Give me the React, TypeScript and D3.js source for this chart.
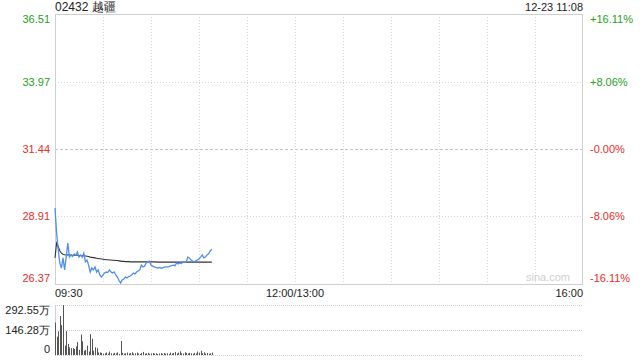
import React from "react";
import * as d3 from "d3";

const title = "02432 越疆";
const stamp = "12-23 11:08";
const prevClose = 31.44;
const priceTicks = [36.51, 33.97, 31.44, 28.91, 26.37];
const pctTicks = ["+16.11%", "+8.06%", "-0.00%", "-8.06%", "-16.11%"];
const timeLabels = ["09:30", "12:00/13:00", "16:00"];
const timeLabelMinutes = [0, 150, 330];
const volTickLabels = ["292.55万", "146.28万", "0"];
const volTicks = [292.55, 146.28, 0];

const prices = [
  29.22, 28.29, 27.65, 27.16, 26.97, 27.35, 26.9, 27.38, 27.91, 27.38,
  27.46, 27.4, 27.5, 27.45, 27.57, 27.38, 27.46, 27.38, 27.53, 27.2,
  27.27, 27.08, 26.82, 26.97, 26.9, 27.01, 26.82, 26.9, 26.71, 26.63,
  26.71, 26.78, 26.82, 26.8, 26.9, 26.82, 26.78, 26.82, 26.71, 26.63,
  26.5, 26.41, 26.52, 26.56, 26.63, 26.6, 26.65, 26.67, 26.72, 26.78,
  26.75, 26.82, 26.86, 26.9, 27.08, 27.01, 27.04, 27.16, 27.2, 27.23,
  27.08, 27.04, 27.01, 26.99, 26.97, 26.99, 26.97, 26.97, 26.99, 27.01,
  27.01, 27.01, 27.04, 27.06, 27.08, 27.06, 27.16, 27.12, 27.16, 27.14,
  27.2, 27.18, 27.2, 27.38, 27.35, 27.27, 27.23, 27.2, 27.24, 27.27,
  27.31, 27.38, 27.46, 27.35, 27.38, 27.46, 27.5, 27.61, 27.68,
];

const avgPrices = [
  27.35, 27.91, 27.78, 27.62, 27.53, 27.49, 27.47, 27.46, 27.47, 27.46,
  27.46, 27.45, 27.45, 27.45, 27.45, 27.44, 27.44, 27.43, 27.43, 27.42,
  27.41, 27.4, 27.38, 27.37, 27.36, 27.35, 27.34, 27.33, 27.32, 27.31,
  27.3, 27.29, 27.28, 27.28, 27.27, 27.27, 27.26, 27.26, 27.25, 27.25,
  27.24, 27.23, 27.22, 27.22, 27.21, 27.21, 27.21, 27.2, 27.2, 27.2,
  27.2, 27.2, 27.2, 27.2, 27.2, 27.2, 27.2, 27.2, 27.2, 27.2,
  27.2, 27.2, 27.2, 27.2, 27.19, 27.19, 27.19, 27.19, 27.19, 27.19,
  27.19, 27.19, 27.19, 27.19, 27.19, 27.19, 27.19, 27.19, 27.19, 27.19,
  27.19, 27.19, 27.19, 27.19, 27.19, 27.19, 27.19, 27.19, 27.19, 27.19,
  27.19, 27.19, 27.19, 27.19, 27.19, 27.19, 27.19, 27.19, 27.19,
];

const volumes = [
  190, 107, 138, 228, 175, 292.55, 55, 140, 65, 45,
  40, 40, 35, 50, 75, 30, 120, 80, 25, 30,
  55, 20, 122, 95, 25, 45, 40, 15, 15, 12,
  8, 10, 15, 8, 20, 10, 8, 12, 10, 15,
  6, 82, 12, 8, 10, 14, 9, 12, 16, 8,
  10, 14, 9, 6, 12, 18, 8, 10, 13, 7,
  9, 12, 8, 10, 6, 9, 11, 7, 12, 8,
  10, 6, 14, 9, 12, 18, 9, 14, 22, 10,
  8, 16, 12, 9, 13, 10, 7, 12, 9, 20,
  14, 25, 10, 16, 8, 12, 7, 10, 14,
];

const GREEN = "#21a321";
const RED = "#ee2b2b";
const FONT = "Liberation Sans, Arial, sans-serif";

export default function App() {
  const left = 55;
  const right = 583;
  const top = 14;
  const bottom = 284;
  const vTop = 305;
  const vBottom = 355;

  const x = d3.scaleLinear().domain([0, 330]).range([left, right]);
  const y = d3.scaleLinear().domain([26.37, 36.51]).range([bottom, top]);
  const yv = d3.scaleLinear().domain([0, 292.55]).range([vBottom, vTop]);

  const line = d3
    .line<number>()
    .x((_, i) => x(i))
    .y((d) => y(d));

  const gridMinutes = d3.range(30, 330, 30);

  return (
    <svg
      width={640}
      height={360}
      style={{ position: "absolute", left: 0, top: 0, display: "block" }}
      fontFamily={FONT}
    >
      <rect width={640} height={360} fill="#fff" />
      <text x={left} y={7} fontSize={12} dominantBaseline="central" fill="#222">
        {title}
      </text>
      <text x={right} y={7} fontSize={11} textAnchor="end" dominantBaseline="central" fill="#222">
        {stamp}
      </text>

      {gridMinutes.map((m) => (
        <line
          key={"vg" + m}
          x1={x(m) + 0.5}
          x2={x(m) + 0.5}
          y1={top}
          y2={bottom}
          stroke="#dadada"
          strokeDasharray="1,2"
        />
      ))}
      {priceTicks.slice(1, 4).map((p) => (
        <line
          key={"hg" + p}
          x1={left}
          x2={right}
          y1={Math.round(y(p)) + 0.5}
          y2={Math.round(y(p)) + 0.5}
          stroke={p === prevClose ? "#c4c4c4" : "#d4d4d4"}
          strokeDasharray={p === prevClose ? "3,2" : "1,2"}
        />
      ))}
      <rect
        x={left + 0.5}
        y={top + 0.5}
        width={right - left - 1}
        height={bottom - top}
        fill="none"
        stroke="#cfcfcf"
      />

      <text x={548} y={277} fontSize={11} textAnchor="middle" dominantBaseline="central" fill="#cfcfcf">
        sina.com
      </text>

      {priceTicks.map((p, i) => {
        const yy = Math.min(Math.max(y(p), top + 5), bottom - 6);
        const col = p > prevClose ? GREEN : RED;
        return (
          <g key={"pt" + p}>
            <text x={50} y={yy} fontSize={11} textAnchor="end" dominantBaseline="central" fill={col}>
              {p.toFixed(2)}
            </text>
            <text x={590} y={yy} fontSize={11} dominantBaseline="central" fill={col}>
              {pctTicks[i]}
            </text>
          </g>
        );
      })}

      {timeLabels.map((t, i) => (
        <text
          key={t}
          x={x(timeLabelMinutes[i])}
          y={293}
          fontSize={11}
          dominantBaseline="central"
          textAnchor={i === 0 ? "start" : i === 1 ? "middle" : "end"}
          fill="#222"
        >
          {t}
        </text>
      ))}

      <path d={line(avgPrices) || ""} fill="none" stroke="#333" strokeWidth={1.1} />
      <path d={line(prices) || ""} fill="none" stroke="#4f8ef2" strokeWidth={1.3} />

      {volTicks.map((v) => (
        <line
          key={"vt" + v}
          x1={left}
          x2={right}
          y1={Math.round(yv(v)) + 0.5}
          y2={Math.round(yv(v)) + 0.5}
          stroke="#cfcfcf"
          strokeDasharray="1,1"
        />
      ))}
      <line x1={left + 0.5} x2={left + 0.5} y1={vTop} y2={vBottom} stroke="#cfcfcf" />
      {volTicks.map((v, i) => {
        const yy = i === 0 ? yv(v) + 5 : i === 2 ? yv(v) - 6 : yv(v);
        return (
          <text key={"vl" + v} x={50} y={yy} fontSize={11} textAnchor="end" dominantBaseline="central" fill="#222">
            {volTickLabels[i]}
          </text>
        );
      })}
      {volumes.map((v, i) => (
        <rect
          key={"vb" + i}
          x={Math.round(x(i))}
          y={yv(v)}
          width={1}
          height={vBottom - yv(v)}
          fill="#555"
        />
      ))}
    </svg>
  );
}
